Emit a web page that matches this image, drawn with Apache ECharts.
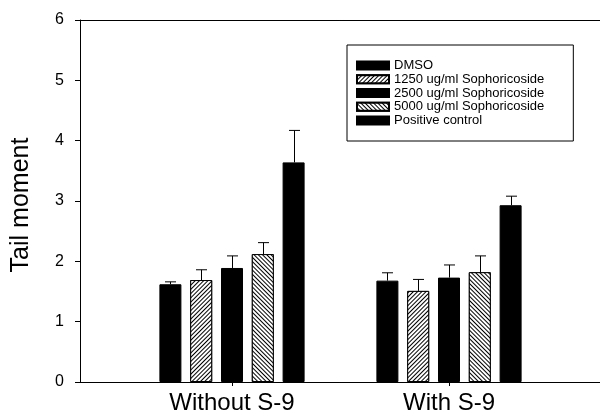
<!DOCTYPE html>
<html>
<head>
<meta charset="utf-8">
<script src="https://cdn.jsdelivr.net/npm/echarts@6/dist/echarts.min.js"></script>
<style>
html,body{margin:0;padding:0;background:#fff;}
#main{width:600px;height:419px;}
</style>
</head>
<body>
<div id="main"></div>
<script>
// ---- data ----
var categories = ['Without S-9', 'With S-9'];
var seriesNames = ['DMSO', '1250 ug/ml Sophoricoside', '2500 ug/ml Sophoricoside', '5000 ug/ml Sophoricoside', 'Positive control'];
var dmso      = [1.62, 1.68];
var s1250     = [1.69, 1.51];
var s2500     = [1.89, 1.73];
var s5000     = [2.12, 1.82];
var positive  = [3.64, 2.93];
var dmsoErr     = [0.04, 0.13];
var s1250Err    = [0.17, 0.19];
var s2500Err    = [0.20, 0.21];
var s5000Err    = [0.19, 0.27];
var positiveErr = [0.53, 0.15];
var yTicks = [0, 1, 2, 3, 4, 5, 6];

var values = [dmso, s1250, s2500, s5000, positive];
var errors = [dmsoErr, s1250Err, s2500Err, s5000Err, positiveErr];

var FONT = 'Liberation Sans, Arial, Helvetica, sans-serif';
var BAR_W = 22, BAR_GAP = 0.4;
var pitch = BAR_W * (1 + BAR_GAP);

function hatch(rot) {
  return {
    symbol: 'rect', color: '#000', backgroundColor: '#fff',
    dashArrayX: [1, 0], dashArrayY: [1, 2], rotation: rot, symbolSize: 1
  };
}
var styles = [
  {color: '#000', borderColor: '#000', borderWidth: 1},
  {color: '#fff', borderColor: '#000', borderWidth: 1, decal: hatch(-Math.PI / 4)},
  {color: '#000', borderColor: '#000', borderWidth: 1},
  {color: '#fff', borderColor: '#000', borderWidth: 1, decal: hatch(Math.PI / 4)},
  {color: '#000', borderColor: '#000', borderWidth: 1}
];

var series = [];
seriesNames.forEach(function (name, i) {
  series.push({
    name: name, type: 'bar', xAxisIndex: 2, yAxisIndex: 1,
    data: values[i], barWidth: BAR_W, barGap: (BAR_GAP * 100) + '%',
    itemStyle: styles[i], emphasis: {disabled: true}, animation: false
  });
});
// error bars
var errData = [];
values.forEach(function (vals, i) {
  vals.forEach(function (v, c) { errData.push([c, v, v + errors[i][c], i]); });
});
series.push({
  type: 'custom', xAxisIndex: 2, yAxisIndex: 1, z: 10, animation: false,
  data: errData,
  renderItem: function (params, api) {
    var c = api.value(0), i = api.value(3);
    var p0 = api.coord([c, api.value(1)]);
    var p1 = api.coord([c, api.value(2)]);
    var x = Math.round(p0[0] + (i - 2) * pitch) + 0.5;
    var hw = 5.5;
    return {
      type: 'group',
      children: [
        {type: 'line', shape: {x1: x, y1: p0[1], x2: x, y2: p1[1]}, style: {stroke: '#000', lineWidth: 1}},
        {type: 'line', shape: {x1: x - hw, y1: p1[1], x2: x + hw, y2: p1[1]}, style: {stroke: '#000', lineWidth: 1}}
      ]
    };
  }
});

var chart = echarts.init(document.getElementById('main'), null, {renderer: 'canvas'});
chart.setOption({
  backgroundColor: '#fff',
  animation: false,
  textStyle: {fontFamily: FONT, color: '#000'},
  grid: [
    {left: 80, right: 0, top: 20, bottom: 37},
    {left: 123.5, right: 42.5, top: 20, bottom: 37}
  ],
  xAxis: [
    {gridIndex: 0, type: 'value', min: 0, max: 1, position: 'bottom',
     axisLine: {show: true, lineStyle: {color: '#000', width: 1}},
     axisTick: {show: false}, axisLabel: {show: false}, splitLine: {show: false}},
    {gridIndex: 0, type: 'value', min: 0, max: 1, position: 'top',
     axisLine: {show: true, onZero: false, lineStyle: {color: '#000', width: 1}},
     axisTick: {show: false}, axisLabel: {show: false}, splitLine: {show: false}},
    {gridIndex: 1, type: 'category', data: categories,
     axisLine: {show: false},
     axisTick: {show: true, alignWithLabel: true, length: 4, lineStyle: {color: '#000'}},
     axisLabel: {fontSize: 24, color: '#000', fontFamily: FONT, margin: 9},
     splitLine: {show: false}}
  ],
  yAxis: [
    {gridIndex: 0, type: 'value', min: yTicks[0], max: yTicks[yTicks.length - 1], interval: 1,
     axisLine: {show: true, lineStyle: {color: '#000', width: 1}},
     axisTick: {show: true, length: 5, inside: false, lineStyle: {color: '#000'}},
     axisLabel: {fontSize: 16, color: '#000', fontFamily: FONT, margin: 16},
     splitLine: {show: false},
     name: 'Tail moment', nameLocation: 'middle', nameGap: 46, nameRotate: 90,
     nameTextStyle: {fontSize: 25, color: '#000', fontFamily: FONT, padding: [0, 8, 0, 0]}},
    {gridIndex: 1, type: 'value', min: yTicks[0], max: yTicks[yTicks.length - 1], interval: 1,
     show: false}
  ],
  legend: {
    orient: 'vertical', left: 347, top: 45,
    padding: [14, 29, 14, 9],
    borderColor: '#000', borderWidth: 1,
    itemWidth: 32, itemHeight: 8, itemGap: 0.5,
    icon: 'rect',
    selectedMode: false,
    textStyle: {fontSize: 13, color: '#000', fontFamily: FONT, lineHeight: 13.2},
    data: seriesNames
  },
  series: series
});
</script>
</body>
</html>
